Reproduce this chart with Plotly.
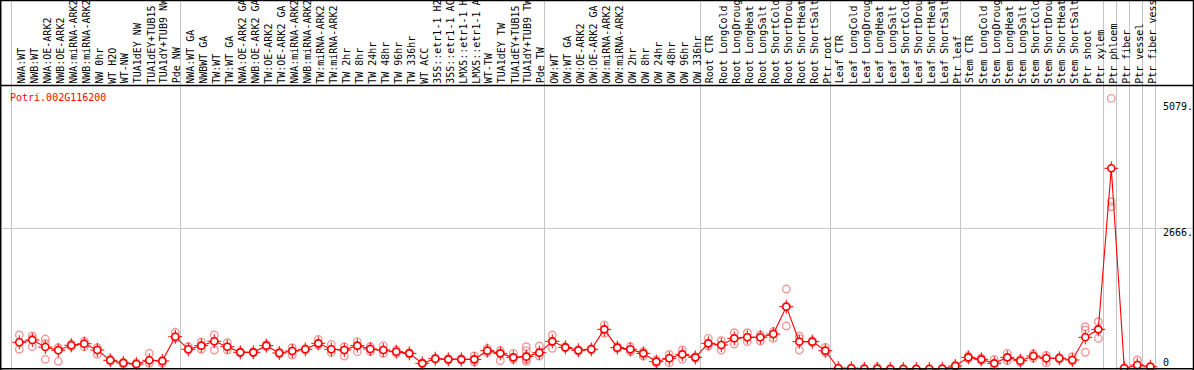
import plotly.graph_objects as go

# ---------------- data ----------------
gene_id = "Potri.002G116200"

labels = [
    "NWA:WT", "NWB:WT", "NWA:OE-ARK2", "NWB:OE-ARK2", "NWA:miRNA-ARK2", "NWB:miRNA-ARK2",
    "NW 0hr", "WT H2O", "WT-NW", "TUA1dEY NW", "TUA1dEY+TUB15", "TUA1dY+TUB9 NW", "Pde NW",
    "NWA:WT GA", "NWBWT GA", "TW:WT", "TW:WT GA", "NWA:OE-ARK2 GA", "NWB:OE-ARK2 GA",
    "TW:OE-ARK2", "TW:OE-ARK2 GA", "NWA:miRNA-ARK2", "NWB:miRNA-ARK2", "TW:miRNA-ARK2",
    "TW:miRNA-ARK2", "TW 2hr", "TW 8hr", "TW 24hr", "TW 48hr", "TW 96hr", "TW 336hr",
    "WT ACC", "35S::etr1-1 H2", "35S::etr1-1 AC", "LMX5::etr1-1 H", "LMX5::etr1-1 A",
    "WT-TW", "TUA1dEY TW", "TUA1dEY+TUB15", "TUA1dY+TUB9 TW", "Pde TW",
    "OW:WT", "OW:WT GA", "OW:OE-ARK2", "OW:OE-ARK2 GA", "OW:miRNA-ARK2", "OW:miRNA-ARK2",
    "OW 2hr", "OW 8hr", "OW 24hr", "OW 48hr", "OW 96hr", "OW 336hr",
    "Root CTR", "Root LongCold", "Root LongDroug", "Root LongHeat", "Root LongSalt",
    "Root ShortCold", "Root ShortDrou", "Root ShortHeat", "Root ShortSalt", "Ptr root",
    "Leaf CTR", "Leaf LongCold", "Leaf LongDroug", "Leaf LongHeat", "Leaf LongSalt",
    "Leaf ShortCold", "Leaf ShortDrou", "Leaf ShortHeat", "Leaf ShortSalt", "Ptr leaf",
    "Stem CTR", "Stem LongCold", "Stem LongDroug", "Stem LongHeat", "Stem LongSalt",
    "Stem ShortCold", "Stem ShortDrou", "Stem ShortHeat", "Stem ShortSalt", "Ptr shoot",
    "Ptr xylem", "Ptr phloem", "Ptr fiber", "Ptr vessel", "Ptr fiber vess",
]

means = [
    551, 594, 464, 403, 496, 525, 408, 217, 167, 148, 217, 204, 655,
    421, 489, 570, 470, 365, 365, 489, 353, 390, 421, 532, 421, 408, 489, 427, 408, 377,
    346, 161, 247, 235, 235, 235, 396, 346, 272, 285, 359,
    569, 458, 402, 421, 792, 452, 421, 346, 192, 254, 328, 272,
    532, 501, 625, 644, 644, 705, 1213, 563, 563, 396,
    69, 69, 59, 60, 55, 55, 55, 55, 60, 111,
    272, 235, 161, 272, 210, 297, 254, 254, 223, 644, 792,
    3781, 69, 130, 98,
]

replicates = [
    [687, 551, 421], [668, 612, 470], [612, 532, 236], [451, 408, 198], [520, 495, 470],
    [570, 525, 470], [451, 408, 328], [236, 217, 198], [186, 167, 148], [167, 148, 130],
    [347, 217, 161], [217, 198, 161], [737, 655, 625],
    [470, 421, 408], [557, 489, 421], [687, 570, 408], [544, 470, 408], [377, 365, 353],
    [377, 365, 353], [513, 489, 465], [371, 353, 334], [451, 390, 316], [433, 421, 408],
    [606, 532, 495], [513, 421, 359], [470, 408, 297], [563, 489, 377], [470, 427, 377],
    [489, 408, 346], [408, 377, 346], [359, 346, 334], [174, 161, 149], [260, 247, 235],
    [247, 235, 223], [247, 235, 223], [297, 235, 186], [433, 396, 359], [396, 346, 210],
    [346, 272, 235], [470, 396, 297, 235, 198], [483, 359, 297],
    [687, 569, 439], [470, 458, 446], [414, 402, 390], [433, 421, 408], [872, 792, 718],
    [470, 452, 433], [470, 408, 377], [377, 346, 297], [223, 192, 161], [328, 254, 173],
    [408, 328, 235], [285, 272, 260],
    [625, 532, 483], [581, 501, 408], [730, 625, 520], [730, 644, 563], [687, 644, 575],
    [749, 705, 625], [1540, 1213, 854], [668, 620, 408], [581, 563, 545], [458, 396, 360],
    [75, 69, 62], [75, 69, 62], [65, 59, 52], [87, 60, 45], [60, 55, 50],
    [60, 55, 50], [60, 55, 50], [60, 55, 50], [65, 60, 55], [130, 111, 100],
    [297, 272, 247], [260, 235, 210], [235, 161, 87], [346, 272, 210], [235, 210, 186],
    [334, 297, 260], [309, 254, 173], [272, 254, 235], [285, 223, 198], [841, 780, 366],
    [934, 792, 625],
    [5079, 3161, 3068], [75, 69, 62], [223, 130, 74], [105, 98, 90],
]

group_bounds = [0, 13, 41, 53, 63, 73, 84, 85, 86, 87, 88]
tick_values = [5079, 2666, 0]
tick_text = ["5079.", "2666.", "0"]
grid_values = [2666]

# ---------------- layout constants ----------------
W, H = 1194, 370
COL = 13.0            # px per column
X0PX = 19.3           # pixel of first column
Y_TOP_PX = 372.0      # pixel of value 0 (just below the frame)
PX_PER_UNIT = 273.6 / 5079.0

x_range = [-X0PX / COL, (W - X0PX) / COL]
y_range = [(Y_TOP_PX - H) / PX_PER_UNIT, Y_TOP_PX / PX_PER_UNIT]

FONT = "DejaVu Sans Mono"
RED = "#ff0000"
PINK = "rgba(235,120,120,0.75)"
GRID = "#c4c4c4"

idx = list(range(len(labels)))

rx, ry = [], []
for i, r in enumerate(replicates):
    for v in r:
        rx.append(i)
        ry.append(v)

fig = go.Figure()

fig.add_trace(go.Scatter(
    x=rx, y=ry, mode="markers",
    marker=dict(symbol="circle-open", size=7.5, color=PINK, line=dict(width=1.4, color=PINK)),
    hoverinfo="skip", showlegend=False,
))
fig.add_trace(go.Scatter(
    x=idx, y=means, mode="lines",
    line=dict(color=RED, width=1.1), hoverinfo="skip", showlegend=False,
))
fig.add_trace(go.Scatter(
    x=idx, y=means, mode="markers",
    marker=dict(symbol="cross-thin-open", size=10, color=RED, line=dict(width=1, color=RED)),
    hoverinfo="skip", showlegend=False,
))
fig.add_trace(go.Scatter(
    x=idx, y=means, mode="markers",
    marker=dict(symbol="circle", size=7, color="white", line=dict(width=1.6, color=RED)),
    hoverinfo="skip", showlegend=False,
))

shapes = []
# vertical group separators (full height)
for k in group_bounds:
    xb = (11.5 + COL * k - X0PX) / COL
    shapes.append(dict(type="line", xref="x", yref="paper", x0=xb, x1=xb, y0=0, y1=1,
                       line=dict(color=GRID, width=1), layer="below"))
# horizontal grid
for g in grid_values:
    shapes.append(dict(type="line", xref="paper", yref="y", x0=0, x1=1, y0=g, y1=g,
                       line=dict(color=GRID, width=1), layer="below"))


def py(px):
    return 1 - px / H


def px_x(px):
    return px / W


# black frame and header separator
for yp in (0.5, 85.5, 368.8):
    shapes.append(dict(type="line", xref="paper", yref="paper", x0=0, x1=1, y0=py(yp), y1=py(yp),
                       line=dict(color="black", width=1.5), layer="above"))
for xp in (0.7, 1193.5):
    shapes.append(dict(type="line", xref="paper", yref="paper", x0=px_x(xp), x1=px_x(xp), y0=0, y1=1,
                       line=dict(color="black", width=1.5), layer="above"))

annotations = []
for i, lab in enumerate(labels):
    annotations.append(dict(
        text=lab, x=i, xref="x", y=py(85.5), yref="paper", xshift=2,
        xanchor="center", yanchor="bottom", textangle=-90, showarrow=False,
        font=dict(family=FONT, size=10, color="black"),
    ))
annotations.append(dict(
    text=gene_id, x=px_x(8), xref="paper", y=py(97.5), yref="paper",
    xanchor="left", yanchor="middle", showarrow=False,
    font=dict(family=FONT, size=10, color=RED),
))
tick_shift = {5079: -8.5, 2666: -4.5}
for v, t in zip(tick_values, tick_text):
    if v in tick_shift:
        annotations.append(dict(text=t, x=px_x(1161), xref="paper", y=v, yref="y",
                                yshift=tick_shift[v], xanchor="left", yanchor="middle",
                                showarrow=False, font=dict(family=FONT, size=10, color="black")))
    else:
        annotations.append(dict(text=t, x=px_x(1161), xref="paper", y=py(362), yref="paper",
                                xanchor="left", yanchor="middle",
                                showarrow=False, font=dict(family=FONT, size=10, color="black")))

fig.update_layout(
    width=W, height=H,
    margin=dict(l=0, r=0, t=0, b=0),
    paper_bgcolor="white", plot_bgcolor="white",
    xaxis=dict(range=x_range, visible=False, fixedrange=True),
    yaxis=dict(range=y_range, visible=False, fixedrange=True),
    shapes=shapes, annotations=annotations,
    showlegend=False,
)

fig.write_html("out.html", config={"displayModeBar": False},
               post_script="document.body.style.margin='0px';document.body.style.overflow='hidden';")
